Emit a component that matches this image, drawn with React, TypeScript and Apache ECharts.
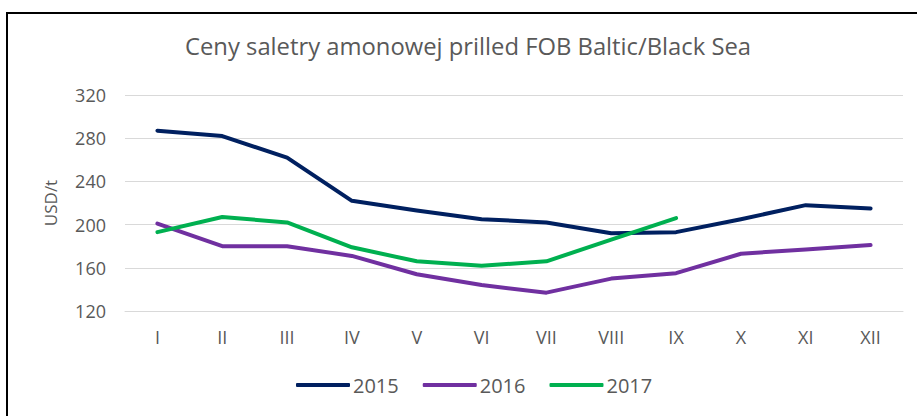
import React, { useEffect, useRef } from "react";
import * as echarts from "echarts";

const months = ["I", "II", "III", "IV", "V", "VI", "VII", "VIII", "IX", "X", "XI", "XII"];
const s2015 = [287, 282, 262, 222, 213, 205, 202, 192, 193, 205, 218, 215];
const s2016 = [201, 180, 180, 171, 154, 144, 137, 150, 155, 173, 177, 181];
const s2017 = [193, 207, 202, 179, 166, 162, 166, 186, 206];
const yTicks = { min: 120, max: 320, interval: 40 };
const titleText = "Ceny saletry amonowej prilled FOB Baltic/Black Sea";
const yName = "USD/t";

const FONT = "Open Sans";
const GRAY = "#595959";

export default function App() {
  const ref = useRef<HTMLDivElement>(null);
  useEffect(() => {
    const chart = echarts.init(ref.current!, null, { renderer: "svg" });
    const mk = (name: string, data: number[], color: string) => ({
      name,
      type: "line",
      data,
      symbol: "none",
      smooth: false,
      lineStyle: { width: 4, color, cap: "round", join: "round" },
      itemStyle: { color },
    });
    chart.setOption({
      animation: false,
      backgroundColor: "#ffffff",
      textStyle: { fontFamily: FONT },
      title: {
        text: titleText,
        left: 180,
        top: 29,
        textStyle: { fontFamily: FONT, fontSize: 23.8, fontWeight: "normal", color: GRAY },
      },
      legend: {
        bottom: 16,
        left: 291,
        itemWidth: 54,
        itemHeight: 4,
        itemGap: 24,
        icon: "roundRect",
        textStyle: { fontFamily: FONT, fontSize: 20, color: GRAY, padding: [0, 0, 0, -2] },
        data: ["2015", "2016", "2017"],
      },
      grid: { left: 125, right: 14, top: 95, bottom: 105, containLabel: false },
      xAxis: {
        type: "category",
        data: months,
        boundaryGap: true,
        axisLine: { show: true, lineStyle: { color: "#d9d9d9", width: 1 } },
        axisTick: { show: false },
        axisLabel: { fontFamily: FONT, fontSize: 18, color: GRAY, margin: 17 },
      },
      yAxis: {
        type: "value",
        min: yTicks.min,
        max: yTicks.max,
        interval: yTicks.interval,
        name: yName,
        nameLocation: "middle",
        nameGap: 66,
        nameTextStyle: { fontFamily: FONT, fontSize: 17, color: GRAY },
        axisLine: { show: false },
        axisTick: { show: false },
        axisLabel: { fontFamily: FONT, fontSize: 18, color: GRAY, margin: 19 },
        splitLine: { lineStyle: { color: "#d9d9d9", width: 1 } },
      },
      series: [
        mk("2015", s2015, "#002060"),
        mk("2016", s2016, "#7030A0"),
        mk("2017", s2017, "#00B050"),
      ],
    });
    return () => chart.dispose();
  }, []);
  return (
    <div style={{ position: "fixed", left: 0, top: 0, width: 917, height: 416, background: "#fff", overflow: "hidden" }}>
      <div ref={ref} style={{ position: "absolute", left: 0, top: 0, width: 917, height: 416 }} />
      <div
        style={{
          position: "absolute",
          left: 6,
          top: 12,
          width: 1000,
          height: 1000,
          borderLeft: "2px solid #000",
          borderTop: "2px solid #000",
          pointerEvents: "none",
        }}
      />
    </div>
  );
}
